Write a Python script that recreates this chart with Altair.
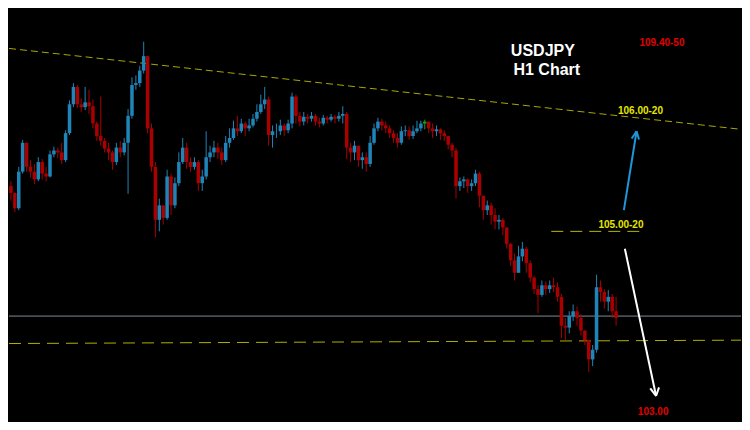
import altair as alt
import pandas as pd

# ---- candle data (USDJPY H1), prices ----
first_open = 105.30
closes = [
    105.23, 105.07, 105.45, 105.75, 105.50, 105.45, 105.37, 105.55, 105.43, 105.40,
    105.63, 105.67, 105.65, 105.57, 105.85, 106.15, 106.33, 106.15, 106.12, 106.17,
    106.13, 105.95, 105.82, 105.77, 105.69, 105.65, 105.55, 105.70, 105.65, 105.75,
    106.03, 106.35, 106.37, 106.50, 106.65, 105.90, 105.50, 104.95, 105.10, 104.97,
    105.40, 105.10, 105.33, 105.55, 105.70, 105.55, 105.50, 105.55, 105.33, 105.40,
    105.60, 105.65, 105.70, 105.65, 105.57, 105.75, 105.80, 105.90, 105.87, 105.95,
    105.90, 105.93, 106.00, 106.07, 106.15, 106.20, 105.83, 105.87, 105.87, 105.93,
    105.88, 105.95, 106.23, 106.03, 105.97, 106.02, 106.00, 106.03, 105.97, 105.95,
    106.01, 105.99, 106.02, 106.00, 106.03, 106.05, 105.70, 105.65, 105.72, 105.57,
    105.60, 105.53, 105.75, 105.90, 105.97, 105.93, 105.90, 105.85, 105.80, 105.75,
    105.87, 105.88, 105.82, 105.87, 105.90, 105.95, 105.97, 105.90, 105.87, 105.89,
    105.85, 105.82, 105.73, 105.67, 105.30, 105.35, 105.37, 105.30, 105.33, 105.43,
    105.20, 105.05, 105.10, 105.00, 104.93, 104.95, 104.87, 104.70, 104.53, 104.40,
    104.57, 104.65, 104.50, 104.35, 104.23, 104.17, 104.27, 104.23, 104.27, 104.25,
    104.15, 103.85, 103.83, 103.95, 104.00, 103.93, 103.80, 103.70, 103.50, 103.60,
    104.25, 104.20, 104.10, 104.15, 104.00, 103.93,
]
highs = [
    105.35, 105.20, 105.50, 105.78, 105.75, 105.57, 105.53, 105.60, 105.58, 105.50,
    105.67, 105.71, 105.70, 105.75, 105.88, 106.19, 106.37, 106.35, 106.21, 106.33,
    106.30, 106.20, 105.97, 106.23, 105.80, 105.75, 105.67, 105.75, 105.77, 105.80,
    106.10, 106.43, 106.45, 106.55, 106.80, 106.65, 105.95, 105.55, 105.17, 105.10,
    105.47, 105.43, 105.39, 105.65, 105.80, 105.75, 105.60, 105.60, 105.57, 105.47,
    105.87, 105.72, 105.77, 105.75, 105.70, 105.82, 105.90, 105.98, 106.03, 106.00,
    105.97, 106.00, 106.05, 106.15, 106.25, 106.33, 106.23, 105.93, 105.95, 105.99,
    105.95, 105.99, 106.27, 106.25, 106.07, 106.07, 106.05, 106.07, 106.05, 106.01,
    106.04, 106.03, 106.05, 106.04, 106.07, 106.13, 106.07, 105.75, 105.77, 105.70,
    105.65, 105.65, 105.82, 105.95, 106.01, 106.00, 105.97, 105.93, 105.88, 105.85,
    105.92, 105.93, 105.92, 105.93, 105.98, 105.98, 105.99, 105.97, 105.95, 105.93,
    105.90, 105.88, 105.80, 105.75, 105.70, 105.39, 105.40, 105.38, 105.37, 105.47,
    105.45, 105.17, 105.15, 105.13, 105.07, 105.00, 104.97, 104.87, 104.71, 104.60,
    104.68, 104.72, 104.67, 104.53, 104.37, 104.27, 104.32, 104.31, 104.32, 104.35,
    104.30, 104.18, 103.93, 104.00, 104.07, 104.05, 103.97, 103.80, 103.70, 103.65,
    104.38, 104.32, 104.23, 104.22, 104.18, 104.15,
]
lows = [
    105.15, 105.03, 105.05, 105.43, 105.45, 105.39, 105.32, 105.35, 105.37, 105.35,
    105.39, 105.60, 105.59, 105.53, 105.55, 105.83, 106.12, 106.11, 106.07, 106.09,
    106.05, 105.90, 105.77, 105.72, 105.65, 105.57, 105.47, 105.52, 105.60, 105.62,
    105.22, 106.00, 106.30, 106.33, 106.47, 105.85, 105.45, 104.77, 104.83, 104.90,
    104.95, 105.00, 105.07, 105.30, 105.53, 105.48, 105.45, 105.47, 105.25, 105.25,
    105.37, 105.55, 105.60, 105.58, 105.52, 105.55, 105.70, 105.78, 105.82, 105.85,
    105.82, 105.87, 105.91, 105.97, 106.05, 106.10, 105.72, 105.70, 105.80, 105.83,
    105.82, 105.85, 105.90, 105.95, 105.92, 105.93, 105.95, 105.97, 105.93, 105.91,
    105.93, 105.95, 105.97, 105.95, 105.97, 105.95, 105.58, 105.55, 105.57, 105.50,
    105.48, 105.45, 105.50, 105.73, 105.87, 105.88, 105.85, 105.80, 105.75, 105.70,
    105.73, 105.82, 105.78, 105.79, 105.85, 105.87, 105.89, 105.85, 105.80, 105.82,
    105.78, 105.77, 105.68, 105.60, 105.17, 105.25, 105.28, 105.23, 105.25, 105.30,
    105.08, 104.95, 105.00, 104.90, 104.85, 104.85, 104.79, 104.65, 104.47, 104.32,
    104.40, 104.52, 104.40, 104.30, 104.18, 103.98, 104.15, 104.17, 104.19, 104.20,
    104.10, 103.72, 103.70, 103.77, 103.90, 103.85, 103.75, 103.65, 103.37, 103.43,
    103.57, 104.10, 104.03, 104.00, 103.93, 103.85,
]
green_bars = [106]

# ---- annotation levels ----
trend_upper = [(0.0, 106.73), (187.5, 105.89)]
trend_lower = [(0.0, 103.665), (187.5, 103.70)]
support_grey = 103.95
mid_level = [(138.9, 104.83), (162.5, 104.83)]
blue_arrow = [(157.5, 105.05), (160.75, 105.87)]
blue_wings = [(159.5, 105.795), (161.375, 105.784)]
white_arrow = [(157.75, 104.65), (165.75, 103.12)]
white_wings = [(164.25, 103.20), (166.5, 103.21)]

labels = [
    ("USDJPY", 136.75, 106.70, "#ffffff", 16),
    ("H1 Chart", 137.75, 106.51, "#ffffff", 16),
    ("109.40-50", 167.25, 106.79, "#e00000", 10),
    ("106.00-20", 161.75, 106.08, "#e6e600", 10),
    ("105.00-20", 156.75, 104.90, "#e6e600", 10),
    ("103.00", 165.0, 102.95, "#e00000", 10),
]

# ---- build table ----
opens = [first_open] + closes[:-1]
rows = []
for i, (o, c, h, l) in enumerate(zip(opens, closes, highs, lows)):
    if i in green_bars:
        kind = "green"
    elif c >= o:
        kind = "up"
    else:
        kind = "down"
    rows.append({
        "x": i + 0.5, "xa": i + 0.05, "xb": i + 0.95,
        "open": o, "close": c,
        "high": max(h, o, c), "low": min(l, o, c), "kind": kind,
    })
df = pd.DataFrame(rows)

XD = [0, 187.5]
YD = [102.85, 107.15]
xs = alt.Scale(domain=XD, nice=False, zero=False)
ys = alt.Scale(domain=YD, nice=False, zero=False)
color = alt.Color("kind:N", legend=None,
                  scale=alt.Scale(domain=["up", "down", "green"],
                                  range=["#1f84b8", "#aa0000", "#1aa01a"]))

wicks = alt.Chart(df).mark_rule(strokeWidth=1).encode(
    x=alt.X("x:Q", scale=xs, axis=None),
    y=alt.Y("low:Q", scale=ys, axis=None),
    y2="high:Q",
    color=color,
)
bodies = alt.Chart(df).mark_bar().encode(
    x=alt.X("xa:Q", scale=xs, axis=None),
    x2="xb:Q",
    y=alt.Y("open:Q", scale=ys, axis=None),
    y2="close:Q",
    color=color,
)


def seg_df(segs):
    return pd.DataFrame([{"x": a[0], "y": a[1], "x2": b[0], "y2": b[1]} for a, b in segs])


def seg_layer(segs, stroke, width, dash=None):
    kw = dict(color=stroke, strokeWidth=width)
    if dash:
        kw["strokeDash"] = dash
    return alt.Chart(seg_df(segs)).mark_rule(**kw).encode(
        x=alt.X("x:Q", scale=xs, axis=None),
        y=alt.Y("y:Q", scale=ys, axis=None),
        x2="x2:Q", y2="y2:Q",
    )


grey = seg_layer([((0.0, support_grey), (187.5, support_grey))], "#7d8a96", 1)
upper = seg_layer([tuple(trend_upper)], "#a8a800", 1, [7, 4])
lower = seg_layer([tuple(trend_lower)], "#b0b000", 1, [12, 7])
mid = seg_layer([tuple(mid_level)], "#b8b800", 1, [12, 7])
barrow = seg_layer([tuple(blue_arrow),
                    (blue_arrow[1], blue_wings[0]),
                    (blue_arrow[1], blue_wings[1])], "#1e96d8", 2)
warrow = seg_layer([tuple(white_arrow),
                    (white_arrow[1], white_wings[0]),
                    (white_arrow[1], white_wings[1])], "#ffffff", 2)

lab_df = pd.DataFrame([{"t": t, "x": x, "y": y, "c": c, "s": s} for t, x, y, c, s in labels])
texts = alt.Chart(lab_df).mark_text(font="Liberation Sans", fontWeight="bold",
                                    align="center", baseline="middle").encode(
    x=alt.X("x:Q", scale=xs, axis=None),
    y=alt.Y("y:Q", scale=ys, axis=None),
    text="t:N",
    color=alt.Color("c:N", scale=None),
    size=alt.Size("s:Q", scale=None),
)

chart = alt.layer(upper, lower, mid, grey, wicks, bodies, barrow, warrow, texts).properties(
    width=734, height=414,
    autosize=alt.AutoSizeParams(type="fit", contains="padding"),
    padding=0,
    background="#000000",
).configure_view(stroke=None)

chart.save("out.html", embed_options={"renderer": "svg", "actions": False})
